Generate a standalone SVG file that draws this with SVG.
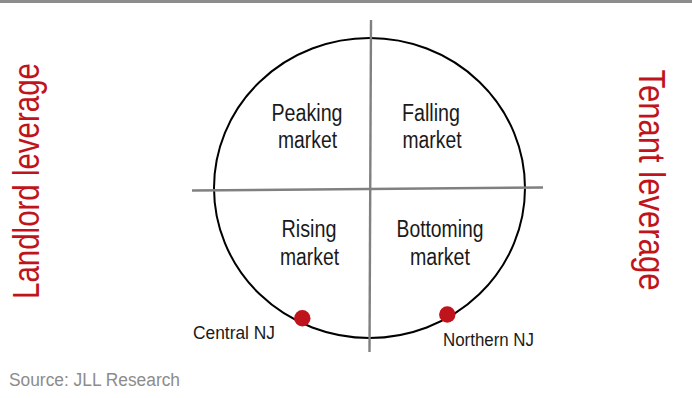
<svg xmlns="http://www.w3.org/2000/svg" width="692" height="398" viewBox="0 0 692 398">
  <style>
    .phase { font-family: "Liberation Sans", Arial, sans-serif; font-size: 23px; fill: #1a1a1a; text-anchor: middle; }
    .market { font-family: "Liberation Sans", Arial, sans-serif; font-size: 17.5px; fill: #1a1a1a; }
    .side { font-family: "Liberation Sans", Arial, sans-serif; font-size: 36px; fill: #c0141c; text-anchor: middle; }
    .axis { stroke: #808080; stroke-width: 2.4; fill: none; }
    .dot { fill: #c0141c; }
  </style>

  <!-- header rule -->
  <rect x="0" y="0" width="692" height="3" fill="#8c8c8c"/>

  <!-- leverage labels -->
  <g id="landlord-leverage">
    <text class="side" transform="translate(38.5,181) rotate(-90)" x="0" y="0" textLength="236" lengthAdjust="spacingAndGlyphs">Landlord leverage</text>
  </g>
  <g id="tenant-leverage">
    <text class="side" transform="translate(639,180) rotate(90)" x="0" y="0" textLength="221" lengthAdjust="spacingAndGlyphs">Tenant leverage</text>
  </g>

  <!-- market cycle -->
  <g id="cycle">
    <ellipse cx="369.5" cy="188" rx="155.5" ry="150" fill="none" stroke="#000" stroke-width="2"/>
  </g>

  <!-- quadrant dividers -->
  <g id="connectors">
    <line class="axis" x1="371" y1="20" x2="369.5" y2="352"/>
    <line class="axis" x1="192" y1="190.5" x2="543" y2="187.5"/>
  </g>

  <g id="peaking">
    <text class="phase" x="307" y="121" textLength="71" lengthAdjust="spacingAndGlyphs">Peaking</text>
    <text class="phase" x="307.5" y="148" textLength="59" lengthAdjust="spacingAndGlyphs">market</text>
  </g>
  <g id="falling">
    <text class="phase" x="431" y="121" textLength="58" lengthAdjust="spacingAndGlyphs">Falling</text>
    <text class="phase" x="432" y="148" textLength="59" lengthAdjust="spacingAndGlyphs">market</text>
  </g>
  <g id="rising">
    <text class="phase" x="309" y="237" textLength="55" lengthAdjust="spacingAndGlyphs">Rising</text>
    <text class="phase" x="309.5" y="264.5" textLength="59" lengthAdjust="spacingAndGlyphs">market</text>
  </g>
  <g id="bottoming">
    <text class="phase" x="440" y="237" textLength="87" lengthAdjust="spacingAndGlyphs">Bottoming</text>
    <text class="phase" x="440" y="264.5" textLength="60" lengthAdjust="spacingAndGlyphs">market</text>
  </g>

  <g id="central-nj">
    <circle class="dot" cx="302.3" cy="318.3" r="8.2"/>
    <text class="market" x="193" y="338.5" textLength="82" lengthAdjust="spacingAndGlyphs">Central NJ</text>
  </g>
  <g id="northern-nj">
    <circle class="dot" cx="447.3" cy="314.5" r="8.2"/>
    <text class="market" x="443" y="345.5" textLength="91" lengthAdjust="spacingAndGlyphs">Northern NJ</text>
  </g>

  <text x="9" y="386" font-family="'Liberation Sans', Arial, sans-serif" font-size="18" fill="#8c8c8c" textLength="171" lengthAdjust="spacingAndGlyphs">Source: JLL Research</text>
</svg>
